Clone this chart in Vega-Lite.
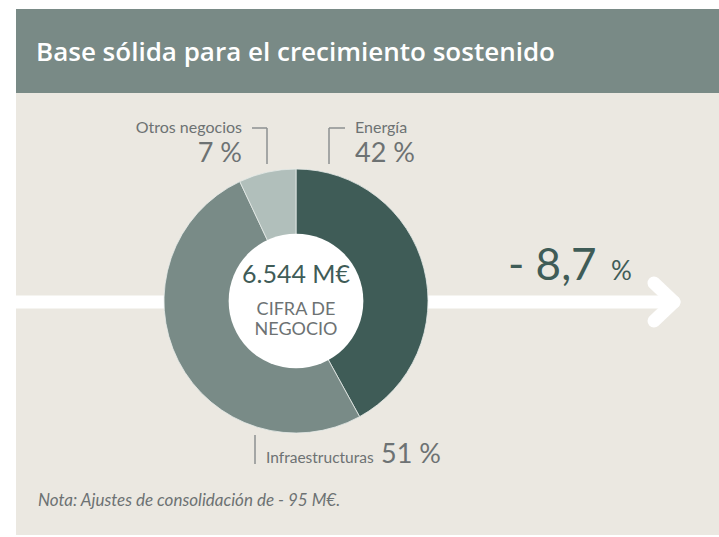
{
  "$schema": "https://vega.github.io/schema/vega-lite/v6.json",
  "width": 719,
  "height": 537,
  "autosize": {"type": "fit", "contains": "padding"},
  "padding": 0,
  "background": "#ffffff",
  "config": {"view": {"stroke": null}},
  "datasets": {
    "segmentos": [
      {"segmento": "Energía", "pct": 42},
      {"segmento": "Infraestructuras", "pct": 51},
      {"segmento": "Otros negocios", "pct": 7}
    ]
  },
  "layer": [
    {
      "data": {"values": [{}]},
      "mark": {"type": "rect", "color": "#ebe8e1"},
      "encoding": {
        "x": {"datum": 16, "type": "quantitative", "scale": {"domain": [0, 719], "nice": false, "zero": false}, "axis": null},
        "x2": {"datum": 719},
        "y": {"datum": 93, "type": "quantitative", "scale": {"domain": [0, 537], "nice": false, "zero": false, "reverse": true}, "axis": null},
        "y2": {"datum": 535}
      }
    },
    {
      "data": {"values": [{}]},
      "mark": {"type": "rect", "color": "#798a86"},
      "encoding": {
        "x": {"datum": 16, "type": "quantitative"},
        "x2": {"datum": 719},
        "y": {"datum": 9, "type": "quantitative"},
        "y2": {"datum": 93}
      }
    },
    {
      "data": {"values": [{}]},
      "mark": {"type": "text", "text": "Base sólida para el crecimiento sostenido", "font": "Open Sans", "fontWeight": 600, "fontSize": 26, "color": "#ffffff", "align": "left", "baseline": "alphabetic"},
      "encoding": {
        "x": {"datum": 36, "type": "quantitative"},
        "y": {"datum": 61, "type": "quantitative"}
      }
    },
    {
      "data": {"values": [{}]},
      "mark": {"type": "rule", "color": "#ffffff", "strokeWidth": 13, "strokeCap": "butt"},
      "encoding": {
        "x": {"datum": 16, "type": "quantitative"},
        "x2": {"datum": 672},
        "y": {"datum": 302, "type": "quantitative"},
        "y2": {"datum": 302}
      }
    },
    {
      "data": {"values": [{}]},
      "mark": {"type": "rule", "color": "#ffffff", "strokeWidth": 13, "strokeCap": "round"},
      "encoding": {
        "x": {"datum": 654, "type": "quantitative"},
        "x2": {"datum": 674},
        "y": {"datum": 283, "type": "quantitative"},
        "y2": {"datum": 302}
      }
    },
    {
      "data": {"values": [{}]},
      "mark": {"type": "rule", "color": "#ffffff", "strokeWidth": 13, "strokeCap": "round"},
      "encoding": {
        "x": {"datum": 654, "type": "quantitative"},
        "x2": {"datum": 674},
        "y": {"datum": 321, "type": "quantitative"},
        "y2": {"datum": 302}
      }
    },
    {
      "data": {"name": "segmentos"},
      "mark": {"type": "arc", "outerRadius": 132, "innerRadius": 0, "stroke": "#e6ebe9", "strokeWidth": 0.8},
      "encoding": {
        "x": {"datum": 296, "type": "quantitative"},
        "y": {"datum": 301, "type": "quantitative"},
        "theta": {"field": "pct", "type": "quantitative", "stack": true},
        "color": {
          "field": "segmento",
          "type": "nominal",
          "scale": {"domain": ["Energía", "Infraestructuras", "Otros negocios"], "range": ["#3f5c57", "#798b87", "#b1bfbb"]},
          "legend": null
        }
      }
    },
    {
      "data": {"values": [{}]},
      "mark": {"type": "point", "shape": "circle", "filled": true, "color": "#ffffff", "opacity": 1, "size": 18146},
      "encoding": {
        "x": {"datum": 296, "type": "quantitative"},
        "y": {"datum": 301, "type": "quantitative"}
      }
    },
    {
      "data": {"values": [{}]},
      "mark": {"type": "text", "text": "6.544 M€", "font": "Lato", "fontSize": 25, "color": "#3f5c57", "align": "center", "baseline": "alphabetic"},
      "encoding": {
        "x": {"datum": 296, "type": "quantitative"},
        "y": {"datum": 283, "type": "quantitative"}
      }
    },
    {
      "data": {"values": [{}]},
      "mark": {"type": "text", "text": "CIFRA DE", "font": "Lato", "fontSize": 18, "color": "#6d7273", "align": "center", "baseline": "alphabetic"},
      "encoding": {
        "x": {"datum": 296, "type": "quantitative"},
        "y": {"datum": 315, "type": "quantitative"}
      }
    },
    {
      "data": {"values": [{}]},
      "mark": {"type": "text", "text": "NEGOCIO", "font": "Lato", "fontSize": 18, "color": "#6d7273", "align": "center", "baseline": "alphabetic"},
      "encoding": {
        "x": {"datum": 296, "type": "quantitative"},
        "y": {"datum": 335, "type": "quantitative"}
      }
    },
    {
      "data": {"values": [{}]},
      "mark": {"type": "rule", "color": "#8c9191", "strokeWidth": 1.5},
      "encoding": {
        "x": {"datum": 252, "type": "quantitative"},
        "x2": {"datum": 267},
        "y": {"datum": 128, "type": "quantitative"},
        "y2": {"datum": 128}
      }
    },
    {
      "data": {"values": [{}]},
      "mark": {"type": "rule", "color": "#8c9191", "strokeWidth": 1.5},
      "encoding": {
        "x": {"datum": 267, "type": "quantitative"},
        "x2": {"datum": 267},
        "y": {"datum": 128, "type": "quantitative"},
        "y2": {"datum": 164}
      }
    },
    {
      "data": {"values": [{}]},
      "mark": {"type": "rule", "color": "#8c9191", "strokeWidth": 1.5},
      "encoding": {
        "x": {"datum": 329, "type": "quantitative"},
        "x2": {"datum": 345},
        "y": {"datum": 128, "type": "quantitative"},
        "y2": {"datum": 128}
      }
    },
    {
      "data": {"values": [{}]},
      "mark": {"type": "rule", "color": "#8c9191", "strokeWidth": 1.5},
      "encoding": {
        "x": {"datum": 329, "type": "quantitative"},
        "x2": {"datum": 329},
        "y": {"datum": 128, "type": "quantitative"},
        "y2": {"datum": 164}
      }
    },
    {
      "data": {"values": [{}]},
      "mark": {"type": "rule", "color": "#8c9191", "strokeWidth": 1.5},
      "encoding": {
        "x": {"datum": 255, "type": "quantitative"},
        "x2": {"datum": 255},
        "y": {"datum": 435, "type": "quantitative"},
        "y2": {"datum": 464}
      }
    },
    {
      "data": {"name": "segmentos"},
      "transform": [{"filter": "datum.segmento === 'Otros negocios'"}, {"calculate": "datum.pct + ' %'", "as": "etiqueta"}],
      "layer": [
        {
          "mark": {"type": "text", "font": "Lato", "fontSize": 16, "color": "#6d7273", "align": "right", "baseline": "alphabetic"},
          "encoding": {
            "x": {"datum": 242, "type": "quantitative"},
            "y": {"datum": 133, "type": "quantitative"},
            "text": {"field": "segmento"}
          }
        },
        {
          "mark": {"type": "text", "font": "Lato", "fontSize": 27, "color": "#6d7273", "align": "right", "baseline": "alphabetic"},
          "encoding": {
            "x": {"datum": 242, "type": "quantitative"},
            "y": {"datum": 162, "type": "quantitative"},
            "text": {"field": "etiqueta"}
          }
        }
      ]
    },
    {
      "data": {"name": "segmentos"},
      "transform": [{"filter": "datum.segmento === 'Energía'"}, {"calculate": "datum.pct + ' %'", "as": "etiqueta"}],
      "layer": [
        {
          "mark": {"type": "text", "font": "Lato", "fontSize": 16, "color": "#6d7273", "align": "left", "baseline": "alphabetic"},
          "encoding": {
            "x": {"datum": 355, "type": "quantitative"},
            "y": {"datum": 133, "type": "quantitative"},
            "text": {"field": "segmento"}
          }
        },
        {
          "mark": {"type": "text", "font": "Lato", "fontSize": 27, "color": "#6d7273", "align": "left", "baseline": "alphabetic"},
          "encoding": {
            "x": {"datum": 355, "type": "quantitative"},
            "y": {"datum": 162, "type": "quantitative"},
            "text": {"field": "etiqueta"}
          }
        }
      ]
    },
    {
      "data": {"name": "segmentos"},
      "transform": [{"filter": "datum.segmento === 'Infraestructuras'"}, {"calculate": "datum.pct + ' %'", "as": "etiqueta"}],
      "layer": [
        {
          "mark": {"type": "text", "font": "Lato", "fontSize": 15.5, "color": "#6d7273", "align": "left", "baseline": "alphabetic"},
          "encoding": {
            "x": {"datum": 266, "type": "quantitative"},
            "y": {"datum": 463, "type": "quantitative"},
            "text": {"field": "segmento"}
          }
        },
        {
          "mark": {"type": "text", "font": "Lato", "fontSize": 27, "color": "#6d7273", "align": "left", "baseline": "alphabetic"},
          "encoding": {
            "x": {"datum": 381, "type": "quantitative"},
            "y": {"datum": 463, "type": "quantitative"},
            "text": {"field": "etiqueta"}
          }
        }
      ]
    },
    {
      "data": {"values": [{}]},
      "mark": {"type": "text", "text": "- 8,7", "font": "Lato", "fontSize": 44, "color": "#3f5c57", "align": "left", "baseline": "alphabetic"},
      "encoding": {
        "x": {"datum": 508, "type": "quantitative"},
        "y": {"datum": 280, "type": "quantitative"}
      }
    },
    {
      "data": {"values": [{}]},
      "mark": {"type": "text", "text": "%", "font": "Lato", "fontSize": 26, "color": "#3f5c57", "align": "left", "baseline": "alphabetic"},
      "encoding": {
        "x": {"datum": 611, "type": "quantitative"},
        "y": {"datum": 280, "type": "quantitative"}
      }
    },
    {
      "data": {"values": [{}]},
      "mark": {"type": "text", "text": "Nota: Ajustes de consolidación de - 95 M€.", "font": "Lato", "fontStyle": "italic", "fontSize": 17, "color": "#6d7273", "align": "left", "baseline": "alphabetic"},
      "encoding": {
        "x": {"datum": 38, "type": "quantitative"},
        "y": {"datum": 506, "type": "quantitative"}
      }
    }
  ]
}
